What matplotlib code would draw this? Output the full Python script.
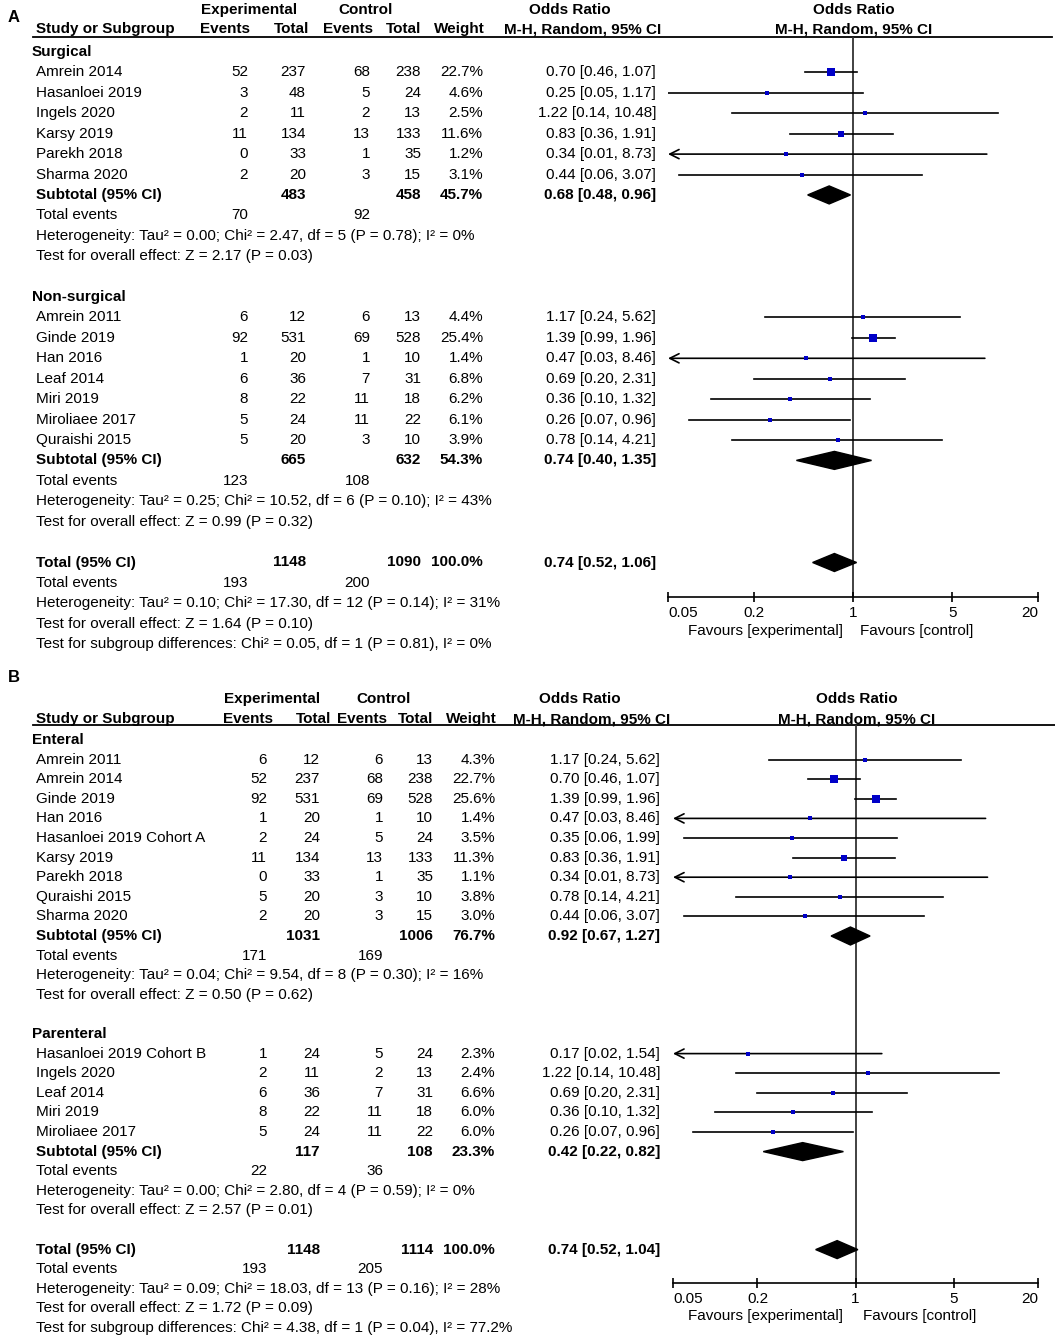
import matplotlib.pyplot as plt

plt.rcParams['font.family'] = ['Liberation Sans', 'DejaVu Sans']
plt.rcParams['font.size'] = 11

# ---- panel A data ----
a_groups = ["Surgical", "Non-surgical"]
a_study = ["Amrein 2014", "Hasanloei 2019", "Ingels 2020", "Karsy 2019", "Parekh 2018", "Sharma 2020",
           "Amrein 2011", "Ginde 2019", "Han 2016", "Leaf 2014", "Miri 2019", "Miroliaee 2017", "Quraishi 2015"]
a_grp = [0, 0, 0, 0, 0, 0, 1, 1, 1, 1, 1, 1, 1]
a_ev_e = [52, 3, 2, 11, 0, 2, 6, 92, 1, 6, 8, 5, 5]
a_n_e = [237, 48, 11, 134, 33, 20, 12, 531, 20, 36, 22, 24, 20]
a_ev_c = [68, 5, 2, 13, 1, 3, 6, 69, 1, 7, 11, 11, 3]
a_n_c = [238, 24, 13, 133, 35, 15, 13, 528, 10, 31, 18, 22, 10]
a_wt = [22.7, 4.6, 2.5, 11.6, 1.2, 3.1, 4.4, 25.4, 1.4, 6.8, 6.2, 6.1, 3.9]
a_or = [0.70, 0.25, 1.22, 0.83, 0.34, 0.44, 1.17, 1.39, 0.47, 0.69, 0.36, 0.26, 0.78]
a_lo = [0.46, 0.05, 0.14, 0.36, 0.01, 0.06, 0.24, 0.99, 0.03, 0.20, 0.10, 0.07, 0.14]
a_hi = [1.07, 1.17, 10.48, 1.91, 8.73, 3.07, 5.62, 1.96, 8.46, 2.31, 1.32, 0.96, 4.21]
a_sub_n_e = [483, 665]
a_sub_n_c = [458, 632]
a_sub_wt = [45.7, 54.3]
a_sub_or = [0.68, 0.74]
a_sub_lo = [0.48, 0.40]
a_sub_hi = [0.96, 1.35]
a_sub_ev_e = [70, 123]
a_sub_ev_c = [92, 108]
a_sub_het = ["Heterogeneity: Tau² = 0.00; Chi² = 2.47, df = 5 (P = 0.78); I² = 0%",
             "Heterogeneity: Tau² = 0.25; Chi² = 10.52, df = 6 (P = 0.10); I² = 43%"]
a_sub_z = ["Test for overall effect: Z = 2.17 (P = 0.03)",
           "Test for overall effect: Z = 0.99 (P = 0.32)"]
a_tot = [1148, 1090, 100.0, 0.74, 0.52, 1.06, 193, 200]
a_tot_txt = ["Heterogeneity: Tau² = 0.10; Chi² = 17.30, df = 12 (P = 0.14); I² = 31%",
             "Test for overall effect: Z = 1.64 (P = 0.10)",
             "Test for subgroup differences: Chi² = 0.05, df = 1 (P = 0.81), I² = 0%"]

# ---- panel B data ----
b_groups = ["Enteral", "Parenteral"]
b_study = ["Amrein 2011", "Amrein 2014", "Ginde 2019", "Han 2016", "Hasanloei 2019 Cohort A", "Karsy 2019",
           "Parekh 2018", "Quraishi 2015", "Sharma 2020",
           "Hasanloei 2019 Cohort B", "Ingels 2020", "Leaf 2014", "Miri 2019", "Miroliaee 2017"]
b_grp = [0, 0, 0, 0, 0, 0, 0, 0, 0, 1, 1, 1, 1, 1]
b_ev_e = [6, 52, 92, 1, 2, 11, 0, 5, 2, 1, 2, 6, 8, 5]
b_n_e = [12, 237, 531, 20, 24, 134, 33, 20, 20, 24, 11, 36, 22, 24]
b_ev_c = [6, 68, 69, 1, 5, 13, 1, 3, 3, 5, 2, 7, 11, 11]
b_n_c = [13, 238, 528, 10, 24, 133, 35, 10, 15, 24, 13, 31, 18, 22]
b_wt = [4.3, 22.7, 25.6, 1.4, 3.5, 11.3, 1.1, 3.8, 3.0, 2.3, 2.4, 6.6, 6.0, 6.0]
b_or = [1.17, 0.70, 1.39, 0.47, 0.35, 0.83, 0.34, 0.78, 0.44, 0.17, 1.22, 0.69, 0.36, 0.26]
b_lo = [0.24, 0.46, 0.99, 0.03, 0.06, 0.36, 0.01, 0.14, 0.06, 0.02, 0.14, 0.20, 0.10, 0.07]
b_hi = [5.62, 1.07, 1.96, 8.46, 1.99, 1.91, 8.73, 4.21, 3.07, 1.54, 10.48, 2.31, 1.32, 0.96]
b_sub_n_e = [1031, 117]
b_sub_n_c = [1006, 108]
b_sub_wt = [76.7, 23.3]
b_sub_or = [0.92, 0.42]
b_sub_lo = [0.67, 0.22]
b_sub_hi = [1.27, 0.82]
b_sub_ev_e = [171, 22]
b_sub_ev_c = [169, 36]
b_sub_het = ["Heterogeneity: Tau² = 0.04; Chi² = 9.54, df = 8 (P = 0.30); I² = 16%",
             "Heterogeneity: Tau² = 0.00; Chi² = 2.80, df = 4 (P = 0.59); I² = 0%"]
b_sub_z = ["Test for overall effect: Z = 0.50 (P = 0.62)",
           "Test for overall effect: Z = 2.57 (P = 0.01)"]
b_tot = [1148, 1114, 100.0, 0.74, 0.52, 1.04, 193, 205]
b_tot_txt = ["Heterogeneity: Tau² = 0.09; Chi² = 18.03, df = 13 (P = 0.16); I² = 28%",
             "Test for overall effect: Z = 1.72 (P = 0.09)",
             "Test for subgroup differences: Chi² = 4.38, df = 1 (P = 0.04), I² = 77.2%"]

ticks = [0.05, 0.2, 1, 5, 20]
tick_labels = ["0.05", "0.2", "1", "5", "20"]

W, H = 1055, 1339
fig = plt.figure(figsize=(W / 100, H / 100), dpi=100)
bg = fig.add_axes([0, 0, 1, 1])
bg.set_xlim(0, W)
bg.set_ylim(H, 0)
bg.axis('off')

BLUE = '#0000c8'


def txt(x, y, s, ha='left', bold=False, size=11):
    bg.text(x, y, s, ha=ha, va='center', fontsize=size, fontweight='bold' if bold else 'normal')


def fmt_or(o, l, h):
    return "%.2f [%.2f, %.2f]" % (o, l, h)


def draw_panel(D, L):
    c = L['cols']
    ry = lambda i: L['y0'] + L['dy'] * i
    x0, x1, ytop, ybot = L['forest']

    ax = fig.add_axes([x0 / W, 1 - ybot / H, (x1 - x0) / W, (ybot - ytop) / H])
    ax.set_xscale('log')
    ax.set_xlim(ticks[0], ticks[-1])
    ax.set_ylim(ybot, ytop)
    ax.patch.set_alpha(0)
    for s in ['top', 'left', 'right']:
        ax.spines[s].set_visible(False)
    ax.spines['bottom'].set_linewidth(1.2)
    ax.set_yticks([])
    ax.set_xticks(ticks)
    ax.set_xticklabels(tick_labels)
    ax.minorticks_off()
    ax.tick_params(axis='x', direction='inout', length=7, width=1.2, pad=3, labelsize=11)
    lb = ax.get_xticklabels()
    lb[0].set_ha('left')
    lb[-1].set_ha('right')
    ax.axvline(1, color='#333333', lw=1.3, zorder=1)

    # headers
    txt(L['lab'][0], L['lab'][1], L['name'], bold=True, size=12)
    h1, h2 = L['hdr']
    txt(c['exp_c'], h1, "Experimental", ha='center', bold=True)
    txt(c['ctl_c'], h1, "Control", ha='center', bold=True)
    txt(c['orh'], h1, "Odds Ratio", ha='center', bold=True)
    txt(c['fh'], h1, "Odds Ratio", ha='center', bold=True)
    txt(c['name'], h2, "Study or Subgroup", bold=True)
    txt(c['hev_e'], h2, "Events", ha='right', bold=True)
    txt(c['hn_e'], h2, "Total", ha='right', bold=True)
    txt(c['hev_c'], h2, "Events", ha='right', bold=True)
    txt(c['hn_c'], h2, "Total", ha='right', bold=True)
    txt(c['hwt'], h2, "Weight", ha='right', bold=True)
    txt(c['mh'], h2, "M-H, Random, 95% CI", ha='center', bold=True)
    txt(c['fh'], h2, "M-H, Random, 95% CI", ha='center', bold=True)
    bg.plot([33, L['line_end']], [ytop, ytop], color='black', lw=1.3)

    def diamond(o, l, h, y):
        ax.fill([l, o, h, o], [y, y - 9, y, y + 9], color='black', zorder=3)

    i = 0
    for g, gname in enumerate(D['groups']):
        txt(c['grp'], ry(i), gname, bold=True)
        i += 1
        for k in range(len(D['study'])):
            if D['grp'][k] != g:
                continue
            y = ry(i)
            txt(c['name'], y, D['study'][k])
            txt(c['ev_e'], y, str(D['ev_e'][k]), ha='right')
            txt(c['n_e'], y, str(D['n_e'][k]), ha='right')
            txt(c['ev_c'], y, str(D['ev_c'][k]), ha='right')
            txt(c['n_c'], y, str(D['n_c'][k]), ha='right')
            txt(c['wt'], y, "%.1f%%" % D['wt'][k], ha='right')
            txt(c['or'], y, fmt_or(D['or'][k], D['lo'][k], D['hi'][k]), ha='right')
            lo, hi = D['lo'][k], D['hi'][k]
            if lo < ticks[0]:
                ax.annotate('', xy=(ticks[0], y), xytext=(hi, y), annotation_clip=False,
                            arrowprops=dict(arrowstyle='->,head_length=0.6,head_width=0.3',
                                            color='black', lw=1.2, shrinkA=0, shrinkB=0))
            else:
                ax.plot([lo, min(hi, ticks[-1])], [y, y], color='black', lw=1.2, zorder=2)
            ax.scatter([D['or'][k]], [y], marker='s', s=max(1.5 * D['wt'][k], 5),
                       color=BLUE, linewidths=0, zorder=4)
            i += 1
        y = ry(i)
        txt(c['name'], y, "Subtotal (95% CI)", bold=True)
        txt(c['n_e'], y, str(D['sub_n_e'][g]), ha='right', bold=True)
        txt(c['n_c'], y, str(D['sub_n_c'][g]), ha='right', bold=True)
        txt(c['wt'], y, "%.1f%%" % D['sub_wt'][g], ha='right', bold=True)
        txt(c['or'], y, fmt_or(D['sub_or'][g], D['sub_lo'][g], D['sub_hi'][g]), ha='right', bold=True)
        diamond(D['sub_or'][g], D['sub_lo'][g], D['sub_hi'][g], y)
        txt(c['name'], ry(i + 1), "Total events")
        txt(c['ev_e'], ry(i + 1), str(D['sub_ev_e'][g]), ha='right')
        txt(c['ev_c'], ry(i + 1), str(D['sub_ev_c'][g]), ha='right')
        txt(c['name'], ry(i + 2), D['sub_het'][g])
        txt(c['name'], ry(i + 3), D['sub_z'][g])
        i += 5

    t = D['tot']
    y = ry(i)
    txt(c['name'], y, "Total (95% CI)", bold=True)
    txt(c['n_e'], y, str(t[0]), ha='right', bold=True)
    txt(c['n_c'], y, str(t[1]), ha='right', bold=True)
    txt(c['wt'], y, "%.1f%%" % t[2], ha='right', bold=True)
    txt(c['or'], y, fmt_or(t[3], t[4], t[5]), ha='right', bold=True)
    diamond(t[3], t[4], t[5], y)
    txt(c['name'], ry(i + 1), "Total events")
    txt(c['ev_e'], ry(i + 1), str(t[6]), ha='right')
    txt(c['ev_c'], ry(i + 1), str(t[7]), ha='right')
    for j, s in enumerate(D['tot_txt']):
        txt(c['name'], ry(i + 2 + j), s)

    txt(L['fav'][0], L['fav'][2], "Favours [experimental]", ha='right')
    txt(L['fav'][1], L['fav'][2], "Favours [control]")


A = dict(groups=a_groups, study=a_study, grp=a_grp, ev_e=a_ev_e, n_e=a_n_e, ev_c=a_ev_c, n_c=a_n_c,
         wt=a_wt, lo=a_lo, hi=a_hi, sub_n_e=a_sub_n_e, sub_n_c=a_sub_n_c, sub_wt=a_sub_wt,
         sub_or=a_sub_or, sub_lo=a_sub_lo, sub_hi=a_sub_hi, sub_ev_e=a_sub_ev_e, sub_ev_c=a_sub_ev_c,
         sub_het=a_sub_het, sub_z=a_sub_z, tot=a_tot, tot_txt=a_tot_txt)
A['or'] = a_or
B = dict(groups=b_groups, study=b_study, grp=b_grp, ev_e=b_ev_e, n_e=b_n_e, ev_c=b_ev_c, n_c=b_n_c,
         wt=b_wt, lo=b_lo, hi=b_hi, sub_n_e=b_sub_n_e, sub_n_c=b_sub_n_c, sub_wt=b_sub_wt,
         sub_or=b_sub_or, sub_lo=b_sub_lo, sub_hi=b_sub_hi, sub_ev_e=b_sub_ev_e, sub_ev_c=b_sub_ev_c,
         sub_het=b_sub_het, sub_z=b_sub_z, tot=b_tot, tot_txt=b_tot_txt)
B['or'] = b_or

LA = dict(name="A", lab=(8, 17), hdr=(10, 29), y0=52, dy=20.42, forest=(668, 1038, 37, 597),
          line_end=1052, fav=(843, 860, 631),
          cols=dict(grp=32, name=36, ev_e=248, n_e=306, ev_c=370, n_c=421, wt=483, **{'or': 656},
                    hev_e=250, hn_e=309, hev_c=373, hn_c=421, hwt=485, exp_c=249, ctl_c=366,
                    orh=570, mh=583, fh=854))
LB = dict(name="B", lab=(8, 677), hdr=(699, 719), y0=740, dy=19.6, forest=(673, 1038, 725, 1283),
          line_end=1055, fav=(843, 863, 1316),
          cols=dict(grp=32, name=36, ev_e=267, n_e=320, ev_c=383, n_c=433, wt=495, **{'or': 660},
                    hev_e=273, hn_e=331, hev_c=387, hn_c=433, hwt=497, exp_c=272, ctl_c=384,
                    orh=580, mh=592, fh=857))

draw_panel(A, LA)
draw_panel(B, LB)

fig.savefig("out.png", dpi=100)
